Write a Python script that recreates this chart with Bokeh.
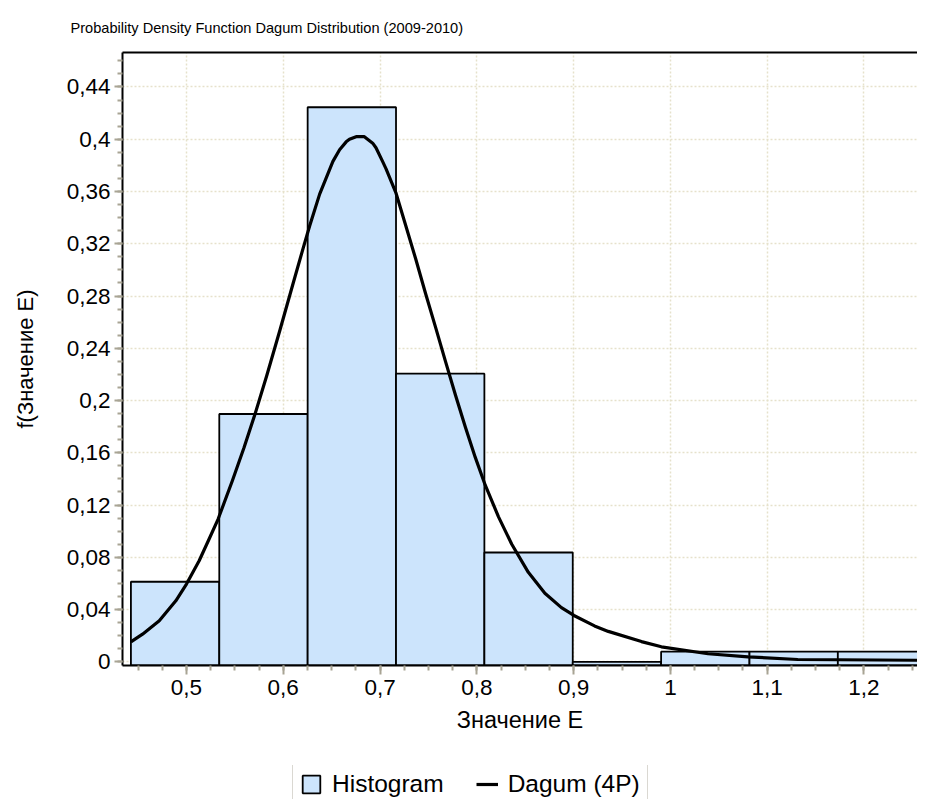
from bokeh.plotting import figure
from bokeh.layouts import column
from bokeh.models import FixedTicker, LinearAxis, Legend, LegendItem, Range1d
from bokeh.embed import file_html
from bokeh.resources import INLINE

TITLE = "Probability Density Function Dagum Distribution (2009-2010)"
X_LABEL = "Значение E"
Y_LABEL = "f(Значение E)"
LEGEND_LABELS = ["Histogram", "Dagum (4P)"]

BIN_EDGES = [0.4426, 0.5339, 0.6252, 0.7165, 0.8078, 0.8991, 0.9904, 1.0817, 1.1730, 1.2643]
HIST_DENSITY = [0.0613, 0.1897, 0.4245, 0.2206, 0.0837, 0.0, 0.0078, 0.0078, 0.0078]

CURVE_X = [0.4426, 0.4546, 0.4719, 0.4890, 0.5000, 0.5131, 0.5234, 0.5327, 0.5474, 0.5595,
           0.5710, 0.5829, 0.5966, 0.6103, 0.6205, 0.6274, 0.6376, 0.6513, 0.6582, 0.6650,
           0.6684, 0.6753, 0.6838, 0.6924, 0.6958, 0.7026, 0.7061, 0.7163, 0.7266, 0.7368,
           0.7471, 0.7574, 0.7676, 0.7779, 0.7882, 0.7984, 0.8087, 0.8224, 0.8361, 0.8532,
           0.8703, 0.8874, 0.9003, 0.9216, 0.9358, 0.9701, 0.9907, 1.0389, 1.0801, 1.1316,
           1.2620]
CURVE_Y = [0.0153, 0.0212, 0.0314, 0.0467, 0.0595, 0.0774, 0.0940, 0.1093, 0.1386, 0.1640,
           0.1900, 0.2190, 0.2540, 0.2900, 0.3165, 0.3340, 0.3580, 0.3831, 0.3920, 0.3980,
           0.4000, 0.4020, 0.4020, 0.3970, 0.3935, 0.3831, 0.3775, 0.3592, 0.3338, 0.3085,
           0.2817, 0.2560, 0.2300, 0.2042, 0.1795, 0.1565, 0.1352, 0.1110, 0.0900, 0.0685,
           0.0525, 0.0415, 0.0355, 0.0275, 0.0233, 0.0155, 0.0115, 0.0062, 0.0038, 0.0018,
           0.0012]

X_TICKS = [0.5, 0.6, 0.7, 0.8, 0.9, 1.0, 1.1, 1.2]
X_TICK_LABELS = ["0,5", "0,6", "0,7", "0,8", "0,9", "1", "1,1", "1,2"]
Y_TICKS = [0.0, 0.04, 0.08, 0.12, 0.16, 0.2, 0.24, 0.28, 0.32, 0.36, 0.4, 0.44]
Y_TICK_LABELS = ["0", "0,04", "0,08", "0,12", "0,16", "0,2", "0,24", "0,28", "0,32", "0,36", "0,4", "0,44"]

X_MIN, X_MAX = 0.4339, 1.2553
Y_MIN, Y_MAX = -0.0028, 0.4664

FONT = "Liberation Sans"
TICK_COLOR = "#a8a494"
GRID_COLOR = "#e6e1cb"
BAR_FILL = "#cce4fc"

p = figure(width=917, height=765, output_backend="svg", toolbar_location=None,
           x_range=Range1d(X_MIN, X_MAX), y_range=Range1d(Y_MIN, Y_MAX),
           min_border_left=122, min_border_right=0, min_border_top=52, min_border_bottom=100,
           title=TITLE, background_fill_color="white", border_fill_color="white")
p.outline_line_color = None

p.title.text_font = FONT
p.title.text_font_size = "14.6px"
p.title.text_font_style = "normal"
p.title.align = "left"
p.title.offset = -52
p.title.standoff = 33
p.title.text_color = "black"

hist_style = dict(fill_color=BAR_FILL, line_color="black", line_width=1.8)
curve_style = dict(line_color="black", line_width=3.2)

hist = p.quad(left=BIN_EDGES[:-1], right=BIN_EDGES[1:], top=HIST_DENSITY, bottom=Y_MIN, **hist_style)
curve = p.line(CURVE_X, CURVE_Y, line_join="round", **curve_style)

minor_x = [round(0.45 + 0.025 * i, 4) for i in range(33)]
minor_y = [round(0.01 * i, 4) for i in range(47)]

xa = p.xaxis[0]
xa.ticker = FixedTicker(ticks=X_TICKS, minor_ticks=minor_x)
xa.major_label_overrides = dict(zip(X_TICKS, X_TICK_LABELS))
ya = p.yaxis[0]
ya.ticker = FixedTicker(ticks=Y_TICKS, minor_ticks=minor_y)
ya.major_label_overrides = dict(zip(Y_TICKS, Y_TICK_LABELS))

for ax in (xa, ya):
    ax.axis_line_color = "black"
    ax.axis_line_width = 2
    ax.major_tick_line_color = TICK_COLOR
    ax.minor_tick_line_color = TICK_COLOR
    ax.major_tick_line_width = 2
    ax.minor_tick_line_width = 2
    ax.major_tick_in = 0
    ax.minor_tick_in = 0
    ax.major_label_text_font = FONT
    ax.major_label_text_font_size = "22.5px"
    ax.major_label_text_color = "black"
    ax.axis_label_text_font = FONT
    ax.axis_label_text_font_style = "normal"
    ax.axis_label_text_color = "black"

xa.major_tick_out = 9
xa.minor_tick_out = 5
xa.major_label_standoff = 5
xa.axis_label = X_LABEL
xa.axis_label_text_font_size = "23.5px"
xa.axis_label_standoff = 9

ya.major_tick_out = 8
ya.minor_tick_out = 5
ya.major_label_standoff = 4
ya.axis_label = Y_LABEL
ya.axis_label_text_font_size = "22px"
ya.axis_label_standoff = 26

top = LinearAxis(axis_line_color="black", axis_line_width=2,
                 major_tick_in=0, major_tick_out=0, minor_tick_in=0, minor_tick_out=0,
                 major_label_text_font_size="0px", major_label_standoff=0)
top.ticker = FixedTicker(ticks=[])
p.add_layout(top, "above")

p.xgrid.ticker = FixedTicker(ticks=X_TICKS)
p.ygrid.ticker = FixedTicker(ticks=Y_TICKS)
for g in (p.xgrid, p.ygrid):
    g.grid_line_color = GRID_COLOR
    g.grid_line_dash = "2 2"
    g.grid_line_width = 1.5

# legend strip below the chart (its ranges lie away from the data, so only the legend shows)
lg = figure(width=917, height=34, output_backend="svg", toolbar_location=None,
            x_range=Range1d(10, 11), y_range=Range1d(10, 11),
            x_axis_type=None, y_axis_type=None,
            min_border_left=122, min_border_right=0, min_border_top=0, min_border_bottom=0,
            background_fill_color="white", border_fill_color="white")
lg.outline_line_color = None
lg.xgrid.visible = False
lg.ygrid.visible = False
h2 = lg.quad(left=BIN_EDGES[:-1], right=BIN_EDGES[1:], top=HIST_DENSITY, bottom=Y_MIN, **hist_style)
c2 = lg.line(CURVE_X, CURVE_Y, **curve_style)

legend = Legend(items=[LegendItem(label=LEGEND_LABELS[0], renderers=[h2]),
                       LegendItem(label=LEGEND_LABELS[1], renderers=[c2])],
                orientation="horizontal", location=(170, -7), margin=0,
                label_text_font=FONT, label_text_font_size="24.5px", label_text_color="black",
                glyph_width=22, glyph_height=22, spacing=32, label_standoff=10, padding=7,
                border_line_color="#b5b1a5", border_line_width=1.5,
                background_fill_color="white", background_fill_alpha=1.0)
lg.add_layout(legend, "center")

layout = column(p, lg, spacing=0)
open("out.html", "w").write(file_html(layout, INLINE))
